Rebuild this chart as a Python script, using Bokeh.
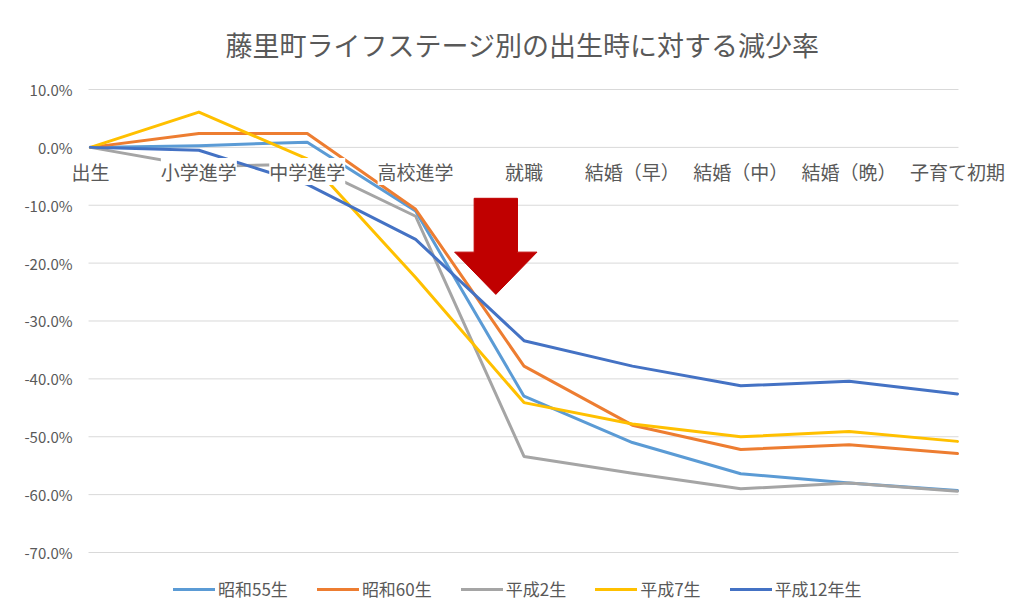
from bokeh.plotting import figure
from bokeh.models import Range1d, Legend, LegendItem, ColumnDataSource
from bokeh.core.properties import value
from bokeh.embed import file_html
from bokeh.resources import INLINE

FONT = "Noto Sans CJK JP"
GREY = "#595959"

title = "藤里町ライフステージ別の出生時に対する減少率"
stages = ["出生", "小学進学", "中学進学", "高校進学", "就職",
          "結婚（早）", "結婚（中）", "結婚（晩）", "子育て初期"]

series_names = ["昭和55生", "昭和60生", "平成2生", "平成7生", "平成12年生"]
s55 = [0.0, 0.3, 0.9, -11.0, -43.0, -51.0, -56.4, -58.0, -59.3]
s60 = [0.0, 2.4, 2.4, -10.7, -37.8, -48.0, -52.2, -51.4, -52.9]
h02 = [0.0, -3.3, -2.9, -11.9, -53.4, -56.3, -59.0, -58.0, -59.4]
h07 = [0.0, 6.1, -2.0, -22.5, -44.1, -47.8, -50.0, -49.1, -50.8]
h12 = [0.0, -0.5, -6.4, -15.9, -33.4, -37.8, -41.2, -40.4, -42.6]
colors = ["#5B9BD5", "#ED7D31", "#A5A5A5", "#FFC000", "#4472C4"]

y_ticks = [10, 0, -10, -20, -30, -40, -50, -60, -70]
y_tick_labels = [f"{t:.1f}%" for t in y_ticks]

# plot-area extent (category index units) and red arrow annotation
grid_x0, grid_x1 = -0.018, 8.009
arrow_x = [3.54, 3.94, 3.94, 4.12, 3.74, 3.36, 3.54]
arrow_y = [-8.8, -8.8, -18.1, -18.1, -25.4, -18.1, -18.1]

idx = list(range(len(stages)))

p = figure(width=1008, height=605, output_backend="svg", toolbar_location=None,
           x_range=Range1d(-0.8304, 8.4706), y_range=Range1d(-79.158, 13.283),
           min_border=0, min_border_left=0, min_border_right=0,
           min_border_top=70, min_border_bottom=0)
p.outline_line_color = None
p.background_fill_color = "white"
p.border_fill_color = "white"
p.xaxis.visible = False
p.yaxis.visible = False
p.xgrid.visible = False
p.ygrid.visible = False

p.title.text = title
p.title.align = "left"
p.title.offset = 225
p.title.text_font = FONT
p.title.text_font_size = "27px"
p.title.text_font_style = "normal"
p.title.text_color = GREY
p.title.standoff = 13

# horizontal gridlines at the value ticks
p.segment(x0=[grid_x0] * len(y_ticks), x1=[grid_x1] * len(y_ticks), y0=y_ticks, y1=y_ticks,
          line_color="#D9D9D9", line_width=1)

# value-axis tick labels
ysrc = ColumnDataSource(dict(x=[grid_x0] * len(y_ticks), y=y_ticks, t=y_tick_labels))
p.text(x="x", y="y", text="t", source=ysrc, x_offset=-16,
       text_align="right", text_baseline="middle",
       text_font=value(FONT), text_font_size="15px", text_color=GREY)

renderers = []
for name, ys, c in zip(series_names, [s55, s60, h02, h07, h12], colors):
    r = p.line(idx, ys, line_color=c, line_width=3, line_join="round", line_cap="round")
    renderers.append(r)

# category labels sit on the 0% line
lab_src = ColumnDataSource(dict(x=idx, y=[0] * len(idx), t=stages))
p.text(x="x", y="y", text="t", source=lab_src, y_offset=24,
       text_align="center", text_baseline="middle",
       text_font=value(FONT), text_font_size="19px", text_color=GREY,
       background_fill_color="white")

p.patch(arrow_x, arrow_y, fill_color="#C00000", line_color="#C00000", line_width=1)

legend = Legend(items=[LegendItem(label=n, renderers=[r]) for n, r in zip(series_names, renderers)],
                orientation="horizontal", location=(173, 4),
                border_line_color=None, background_fill_alpha=0,
                label_text_font=FONT, label_text_font_size="17px", label_text_color=GREY,
                glyph_width=42, glyph_height=20, label_standoff=3, spacing=29, padding=5,
                label_height=20)
p.add_layout(legend, "center")

open("out.html", "w").write(file_html(p, INLINE))
